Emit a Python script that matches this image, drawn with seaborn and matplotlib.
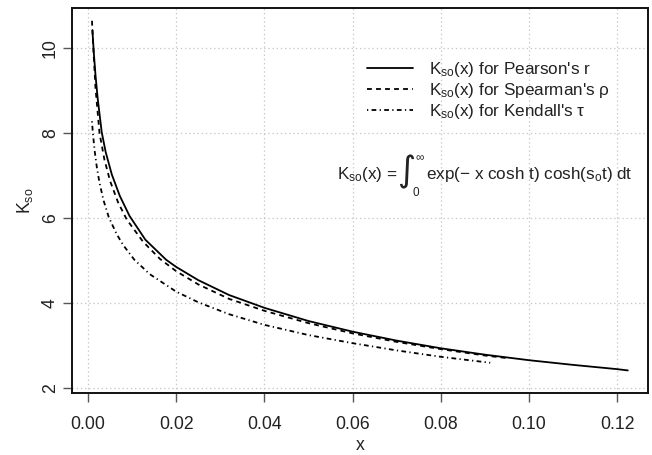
import matplotlib
matplotlib.use("Agg")
import matplotlib.pyplot as plt
from matplotlib.lines import Line2D
import numpy as np
import pandas as pd
import seaborn as sns

# ---- data ----
pearson_x = [0.0010, 0.0013, 0.0017, 0.0022, 0.0031, 0.0040, 0.0054, 0.0072, 0.0094,
             0.0130, 0.0177, 0.0200, 0.0250, 0.0320, 0.0400, 0.0500, 0.0600, 0.0700,
             0.0800, 0.0900, 0.1000, 0.1100, 0.1200, 0.1224]
pearson_k = [10.41, 9.90, 9.35, 8.80, 8.02, 7.55, 7.02, 6.52, 6.05,
             5.49, 5.02, 4.85, 4.54, 4.19, 3.89, 3.58, 3.33, 3.12,
             2.94, 2.79, 2.66, 2.55, 2.45, 2.42]

spearman_x = [0.0009, 0.0012, 0.0017, 0.0026, 0.0037, 0.0050, 0.0068, 0.0088, 0.0125,
              0.0163, 0.0200, 0.0250, 0.0320, 0.0400, 0.0500, 0.0600, 0.0700, 0.0800,
              0.0900, 0.0950]
spearman_k = [10.63, 10.00, 9.05, 8.00, 7.38, 6.87, 6.37, 5.96, 5.44,
              5.04, 4.75, 4.44, 4.10, 3.82, 3.53, 3.29, 3.09, 2.92,
              2.77, 2.71]

kendall_x = [0.0009, 0.0011, 0.0015, 0.0020, 0.0026, 0.0035, 0.0047, 0.0065, 0.0080,
             0.0105, 0.0140, 0.0200, 0.0250, 0.0320, 0.0400, 0.0500, 0.0600, 0.0700,
             0.0800, 0.0912]
kendall_k = [8.27, 8.00, 7.58, 7.19, 6.83, 6.42, 6.02, 5.62, 5.36,
             5.02, 4.68, 4.27, 4.02, 3.74, 3.49, 3.25, 3.06, 2.89,
             2.74, 2.60]

series_labels = [r"K$_{\rm so}$(x) for Pearson's r",
                 r"K$_{\rm so}$(x) for Spearman's ρ",
                 r"K$_{\rm so}$(x) for Kendall's τ"]

x_ticks = [0.00, 0.02, 0.04, 0.06, 0.08, 0.10, 0.12]
x_ticklabels = ["0.00", "0.02", "0.04", "0.06", "0.08", "0.10", "0.12"]
y_ticks = [2, 4, 6, 8, 10]
y_ticklabels = ["2", "4", "6", "8", "10"]

# ---- style ----
sns.set_theme(style="white")
plt.rcParams["font.family"] = ["Liberation Sans", "DejaVu Sans"]
plt.rcParams["mathtext.fontset"] = "custom"
plt.rcParams["mathtext.rm"] = "Liberation Sans"
plt.rcParams["mathtext.it"] = "Liberation Sans:italic"
plt.rcParams["mathtext.sf"] = "Liberation Sans"
plt.rcParams["lines.scale_dashes"] = False

W, H = 652, 455
fig = plt.figure(figsize=(W / 100, H / 100), dpi=100)
ax = fig.add_axes([72 / W, 1 - 393 / H, 576 / W, 385 / H])

df = pd.concat([
    pd.DataFrame({"x": pearson_x, "K": pearson_k, "series": series_labels[0]}),
    pd.DataFrame({"x": spearman_x, "K": spearman_k, "series": series_labels[1]}),
    pd.DataFrame({"x": kendall_x, "K": kendall_k, "series": series_labels[2]}),
], ignore_index=True)

dash_map = {series_labels[0]: "", series_labels[1]: (3.5, 3.0),
            series_labels[2]: (0.9, 2.4, 3.4, 2.4)}

ax.grid(True, color="#c8c8c8", linestyle=(0, (1, 2)), linewidth=0.9, zorder=0)
sns.lineplot(data=df, x="x", y="K", style="series", style_order=series_labels,
             dashes=dash_map, color="black", linewidth=1.3, sort=False,
             estimator=None, ax=ax, legend=False, zorder=3)

ax.set_xlim(-0.00363, 0.12698)
ax.set_ylim(1.89, 10.93)
ax.set_xticks(x_ticks)
ax.set_xticklabels(x_ticklabels)
ax.set_yticks(y_ticks)
ax.set_yticklabels(y_ticklabels, rotation=90, va="center")
ax.tick_params(axis="both", direction="out", length=6.5, width=1.0, color="#555555",
               labelsize=12.7, labelcolor="#222222", bottom=True, left=True)
ax.tick_params(axis="x", pad=10)
ax.tick_params(axis="y", pad=3)
for s in ax.spines.values():
    s.set_visible(True)
    s.set_color("#111111")
    s.set_linewidth(1.4)

ax.set_xlabel("x", fontsize=12.7, color="#222222", labelpad=3)
ax.set_ylabel(r"K$_{\rm so}$", fontsize=12.7, color="#222222", labelpad=5)

# legend
handles = [Line2D([], [], color="black", linewidth=1.3, dashes=dash_map[l]) for l in series_labels]
for h, l in zip(handles, series_labels):
    if dash_map[l] == "":
        h.set_linestyle("-")
leg = ax.legend(handles, series_labels, loc="upper left",
                bbox_to_anchor=(367 / W, 1 - 60 / H), bbox_transform=fig.transFigure,
                frameon=False, fontsize=12.3, handlelength=2.7, handletextpad=0.95,
                labelspacing=0.12, borderpad=0, borderaxespad=0)
for t in leg.get_texts():
    t.set_color("#222222")

# formula
fs = 12.3
fig.text(398 / W, 1 - 179 / H, r"K$_{\rm so}$(x) =", ha="right", va="baseline",
         fontsize=fs, color="#222222")
fig.text(406 / W, 1 - 172 / H, "∫", ha="center", va="center", fontsize=25,
         color="#222222", family=["DejaVu Sans"])
fig.text(420 / W, 1 - 158 / H, "∞", ha="center", va="center", fontsize=8.5,
         color="#222222")
fig.text(416 / W, 1 - 193 / H, "0", ha="center", va="center", fontsize=8.5,
         color="#222222")
fig.text(426 / W, 1 - 179 / H, r"exp(− x cosh t) cosh(s$_{\rm o}$t) dt", ha="left",
         va="baseline", fontsize=fs, color="#222222")

fig.savefig("out.png", dpi=100)
